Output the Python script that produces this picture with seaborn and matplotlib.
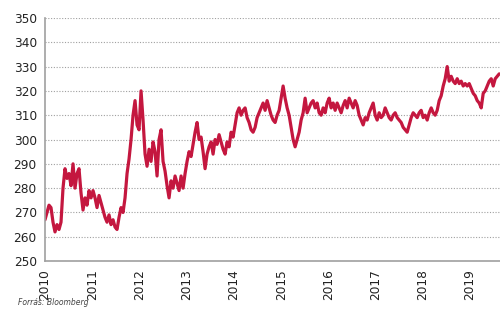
#!/usr/bin/env python3
# -*- coding: utf-8 -*-
'''
EUR/HUF rate 2010-2019, recreated from a Bloomberg chart
'''

import pandas as pd
import matplotlib.pyplot as plt
import matplotlib.dates as mdates
import seaborn as sns

# --------------------
# DATA (roughly semi-monthly)
# --------------------
y2010 = [267, 270, 273, 272, 266, 262, 265, 263, 266, 280, 288, 284,
         286, 281, 290, 280, 286, 288, 278, 271, 276, 273, 279, 276]
y2011 = [279, 276, 272, 277, 274, 271, 268, 266, 269, 265, 267, 264,
         263, 268, 272, 270, 276, 286, 292, 300, 310, 316, 306, 304]
y2012 = [320, 308, 294, 289, 296, 291, 299, 295, 285, 300, 304, 291,
         287, 281, 276, 283, 280, 285, 282, 279, 285, 280, 286]
y2013 = [291, 295, 293, 298, 303, 307, 300, 301, 295, 288, 294, 297,
         299, 294, 300, 298, 302, 299, 296, 294, 299, 297, 303, 301]
y2014 = [306, 311, 313, 310, 312, 313, 309, 307, 304, 303, 305, 309,
         311, 313, 315, 312, 316, 313, 310, 308, 307, 310, 312, 317]
y2015 = [322, 317, 313, 310, 305, 300, 297, 300, 303, 308, 311, 317,
         311, 313, 315, 316, 313, 315, 311, 310, 313, 311, 315, 317]
y2016 = [313, 315, 312, 315, 313, 311, 314, 316, 313, 317, 315, 313,
         316, 314, 310, 308, 306, 309, 308, 311, 313, 315, 310, 308]
y2017 = [311, 309, 310, 313, 311, 309, 308, 310, 311, 309, 308, 307,
         305, 304, 303, 306, 309, 311, 310, 309, 311, 312, 309, 310]
y2018 = [308, 311, 313, 311, 310, 312, 316, 318, 322, 325, 330, 324,
         326, 324, 323, 325, 323, 324, 322, 323, 322, 323, 321, 319]
y2019 = [318, 316, 315, 313, 319, 320, 322, 324, 325, 322, 325, 326, 327]

values = y2010 + y2011 + y2012 + y2013 + y2014 + y2015 + y2016 + y2017 + y2018 + y2019
dates = pd.date_range('2010-01-01', '2019-08-14', periods=len(values))

years = list(range(2010, 2020))
yticks = list(range(250, 351, 10))

LINE = '#c4173f'
GREY = '#a0a0a0'

# --------------------
# PLOT
# --------------------
sns.set_style('white')
plt.rcParams['font.family'] = ['DejaVu Sans']

fig = plt.figure(figsize=(5.0, 3.09), dpi=100)
ax = fig.add_axes([0.09, 0.155, 0.91, 0.787])

df = pd.DataFrame({'date': dates, 'rate': values})
sns.lineplot(data=df, x='date', y='rate', ax=ax, color=LINE, linewidth=2.3)

ax.set_ylim(250, 350)
ax.set_yticks(yticks)
ax.set_xlim(pd.Timestamp('2010-01-01'), pd.Timestamp('2019-08-20'))
ax.set_xticks([pd.Timestamp(f'{y}-01-01') for y in years])
ax.xaxis.set_major_formatter(mdates.DateFormatter('%Y'))
ax.set_xlabel('')
ax.set_ylabel('')

ax.yaxis.grid(True, linestyle=(0, (1, 1.5)), color=GREY, linewidth=0.8)
ax.xaxis.grid(False)
for side in ['top', 'right']:
    ax.spines[side].set_visible(False)
for side in ['left', 'bottom']:
    ax.spines[side].set_color(GREY)
    ax.spines[side].set_linewidth(1.2)

ax.tick_params(axis='y', length=3, color=GREY, labelsize=8.7, labelcolor='#222222', pad=3)
ax.tick_params(axis='x', length=3, color=GREY, labelsize=8.7, labelcolor='#222222',
               rotation=90, pad=3)
ax.set_axisbelow(True)

fig.text(0.036, 0.006, 'Forrás: Bloomberg', fontsize=5.5, style='italic',
         color='#444444', va='bottom')

fig.savefig('out.png', dpi=100)
